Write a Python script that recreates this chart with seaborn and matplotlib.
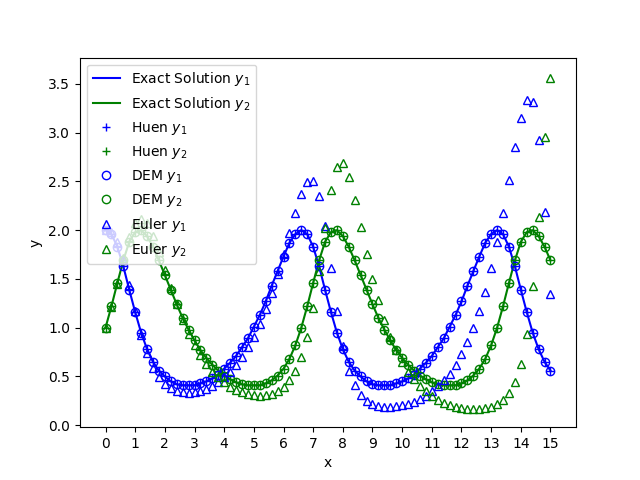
import numpy as np
import matplotlib
matplotlib.use("Agg")
import matplotlib.pyplot as plt
import seaborn as sns

# time grid, step 0.2 from 0 to 15
x = np.round(np.arange(0, 15.01, 0.2), 1)

# exact solution (Huen and DEM points sit on it)
y1_exact = [2.00, 1.96, 1.83, 1.63, 1.39, 1.16, 0.95, 0.78, 0.65, 0.56, 0.50, 0.45, 0.42, 0.41, 0.41, 0.41, 0.43,
            0.45, 0.48, 0.52, 0.58, 0.64, 0.71, 0.80, 0.89, 1.01, 1.13, 1.27, 1.43, 1.58, 1.73, 1.87, 1.96,
            2.00, 1.96, 1.83, 1.63, 1.39, 1.16, 0.95, 0.78, 0.65, 0.56, 0.50, 0.45, 0.42, 0.41, 0.41, 0.41, 0.43,
            0.45, 0.48, 0.52, 0.58, 0.64, 0.71, 0.80, 0.89, 1.01, 1.13, 1.27, 1.43, 1.58, 1.73, 1.87, 1.96,
            2.00, 1.96, 1.83, 1.63, 1.39, 1.16, 0.95, 0.78, 0.65, 0.56]
y2_exact = [1.00, 1.22, 1.46, 1.69, 1.88, 1.98, 2.00, 1.94, 1.83, 1.69, 1.54, 1.39, 1.24, 1.10, 0.98, 0.87, 0.77,
            0.69, 0.62, 0.56, 0.51, 0.47, 0.44, 0.42, 0.41, 0.41, 0.41, 0.43, 0.46, 0.51, 0.58, 0.68, 0.82,
            1.00, 1.22, 1.46, 1.69, 1.88, 1.98, 2.00, 1.94, 1.83, 1.69, 1.54, 1.39, 1.24, 1.10, 0.98, 0.87, 0.77,
            0.69, 0.62, 0.56, 0.51, 0.47, 0.44, 0.42, 0.41, 0.41, 0.41, 0.43, 0.46, 0.51, 0.58, 0.68, 0.82,
            1.00, 1.22, 1.46, 1.69, 1.88, 1.98, 2.00, 1.94, 1.83, 1.69]
y1_huen = y1_exact
y2_huen = y2_exact
y1_dem = y1_exact
y2_dem = y2_exact

# Euler drifts outwards
y1_euler = [2.00, 1.98, 1.88, 1.69, 1.44, 1.17, 0.93, 0.74, 0.59, 0.49, 0.42, 0.38, 0.35, 0.34, 0.33, 0.34, 0.35,
            0.37, 0.40, 0.44, 0.49, 0.55, 0.62, 0.70, 0.80, 0.91, 1.04, 1.19, 1.36, 1.55, 1.76, 1.97, 2.18,
            2.37, 2.49, 2.50, 2.35, 2.04, 1.61, 1.17, 0.81, 0.56, 0.41, 0.31, 0.25, 0.22, 0.20, 0.19, 0.19, 0.20,
            0.21, 0.22, 0.24, 0.27, 0.30, 0.35, 0.40, 0.46, 0.53, 0.62, 0.73, 0.85, 1.00, 1.17, 1.37, 1.61,
            1.88, 2.18, 2.51, 2.85, 3.15, 3.34, 3.31, 2.93, 2.19, 1.35]
y2_euler = [1.00, 1.21, 1.45, 1.71, 1.93, 2.07, 2.12, 2.07, 1.94, 1.78, 1.59, 1.41, 1.24, 1.08, 0.94, 0.82, 0.72,
            0.63, 0.55, 0.49, 0.44, 0.39, 0.36, 0.34, 0.32, 0.31, 0.30, 0.31, 0.32, 0.35, 0.39, 0.46, 0.56,
            0.70, 0.91, 1.20, 1.58, 2.02, 2.41, 2.65, 2.69, 2.55, 2.31, 2.03, 1.76, 1.50, 1.28, 1.08, 0.91, 0.77,
            0.65, 0.55, 0.47, 0.40, 0.35, 0.30, 0.26, 0.23, 0.21, 0.19, 0.18, 0.17, 0.17, 0.17, 0.18, 0.19,
            0.22, 0.26, 0.33, 0.44, 0.63, 0.94, 1.43, 2.14, 2.96, 3.56]

fig, ax = plt.subplots(figsize=(6.4, 4.8), dpi=100)

sns.lineplot(x=x, y=y1_exact, color="b", label="Exact Solution $y_1$", ax=ax)
sns.lineplot(x=x, y=y2_exact, color="g", label="Exact Solution $y_2$", ax=ax)

# markers only
sns.lineplot(x=x, y=y1_huen, color="b", ls="none", marker="+", mec="b", mew=1, label="Huen $y_1$", ax=ax)
sns.lineplot(x=x, y=y2_huen, color="g", ls="none", marker="+", mec="g", mew=1, label="Huen $y_2$", ax=ax)
sns.lineplot(x=x, y=y1_dem, color="b", ls="none", marker="o", mfc="none", mec="b", mew=1,
             label="DEM $y_1$", ax=ax)
sns.lineplot(x=x, y=y2_dem, color="g", ls="none", marker="o", mfc="none", mec="g", mew=1,
             label="DEM $y_2$", ax=ax)
sns.lineplot(x=x, y=y1_euler, color="b", ls="none", marker="^", mfc="none", mec="b", mew=1,
             label="Euler $y_1$", ax=ax)
sns.lineplot(x=x, y=y2_euler, color="g", ls="none", marker="^", mfc="none", mec="g", mew=1,
             label="Euler $y_2$", ax=ax)

ax.set_xticks(range(16))
ax.set_xlim(-0.86, 15.86)
ax.set_ylim(-0.02, 3.77)
ax.set_xlabel("x")
ax.set_ylabel("y")
ax.legend(loc="upper left")

fig.savefig("out.png", dpi=100)
